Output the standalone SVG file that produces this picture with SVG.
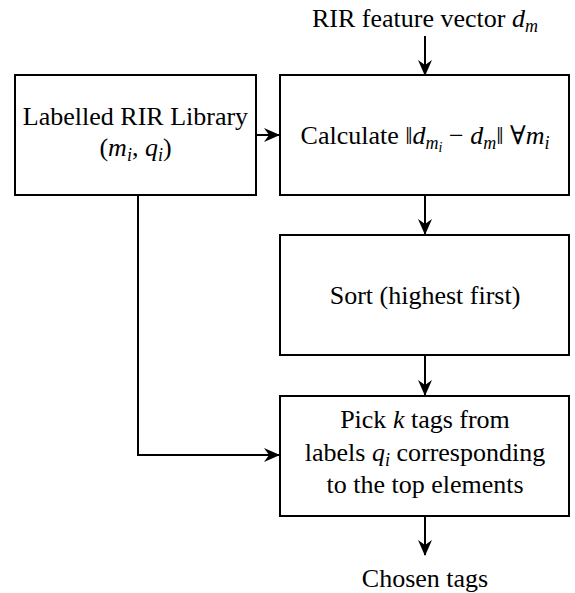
<svg xmlns="http://www.w3.org/2000/svg" width="575" height="593" viewBox="0 0 575 593">
<style>
.box{fill:#fff;stroke:#000;stroke-width:2}
.i{font-style:italic}
.s{font-size:18px}
.ss{font-size:14px}
.c{fill:none;stroke:#000;stroke-width:2}
</style>
<defs>
<marker id="ah" viewBox="0 0 16 16" refX="15" refY="8" markerWidth="16" markerHeight="16" markerUnits="userSpaceOnUse" orient="auto">
<path d="M0,1 L16,8 L0,15 L5,8 Z" fill="#000"/>
</marker>
</defs>
<g id="connectors">
<line class="c" x1="425" y1="36" x2="425" y2="75" marker-end="url(#ah)"/>
<line class="c" x1="256" y1="135" x2="279" y2="135" marker-end="url(#ah)"/>
<line class="c" x1="425" y1="195" x2="425" y2="234" marker-end="url(#ah)"/>
<line class="c" x1="425" y1="355" x2="425" y2="395" marker-end="url(#ah)"/>
<polyline class="c" points="138,195 138,455 279,455" marker-end="url(#ah)"/>
<line class="c" x1="425" y1="516" x2="425" y2="555" marker-end="url(#ah)"/>
</g>
<g font-family="Liberation Serif, DejaVu Serif, serif" font-size="26" text-anchor="middle" fill="#000">
<g id="input">
<text x="425" y="27">RIR feature vector <tspan class="i">d</tspan><tspan class="i s" dy="5">m</tspan></text>
</g>
<g id="library">
<rect class="box" x="15" y="75" width="241" height="120"/>
<text x="135.5" y="125">Labelled RIR Library</text>
<text x="135.5" y="156">(<tspan class="i">m</tspan><tspan class="i s" dy="5">i</tspan><tspan dy="-5">, </tspan><tspan class="i">q</tspan><tspan class="i s" dy="5">i</tspan><tspan dy="-5">)</tspan></text>
</g>
<g id="calculate">
<rect class="box" x="280" y="75" width="289" height="120"/>
<text x="425" y="144">Calculate ‖<tspan class="i">d</tspan><tspan class="i s" dy="5">m</tspan><tspan class="i ss" dy="3">i</tspan><tspan dy="-8"> − </tspan><tspan class="i">d</tspan><tspan class="i s" dy="5">m</tspan><tspan dy="-5">‖ ∀</tspan><tspan class="i">m</tspan><tspan class="i s" dy="5">i</tspan></text>
</g>
<g id="sort">
<rect class="box" x="280" y="235" width="289" height="120"/>
<text x="425" y="304">Sort (highest first)</text>
</g>
<g id="pick">
<rect class="box" x="280" y="396" width="289" height="120"/>
<text x="425" y="428">Pick <tspan class="i">k</tspan> tags from</text>
<text x="425" y="461">labels <tspan class="i">q</tspan><tspan class="i s" dy="5">i</tspan><tspan dy="-5"> corresponding</tspan></text>
<text x="425" y="493">to the top elements</text>
</g>
<g id="output">
<text x="425" y="587">Chosen tags</text>
</g>
</g>
</svg>
